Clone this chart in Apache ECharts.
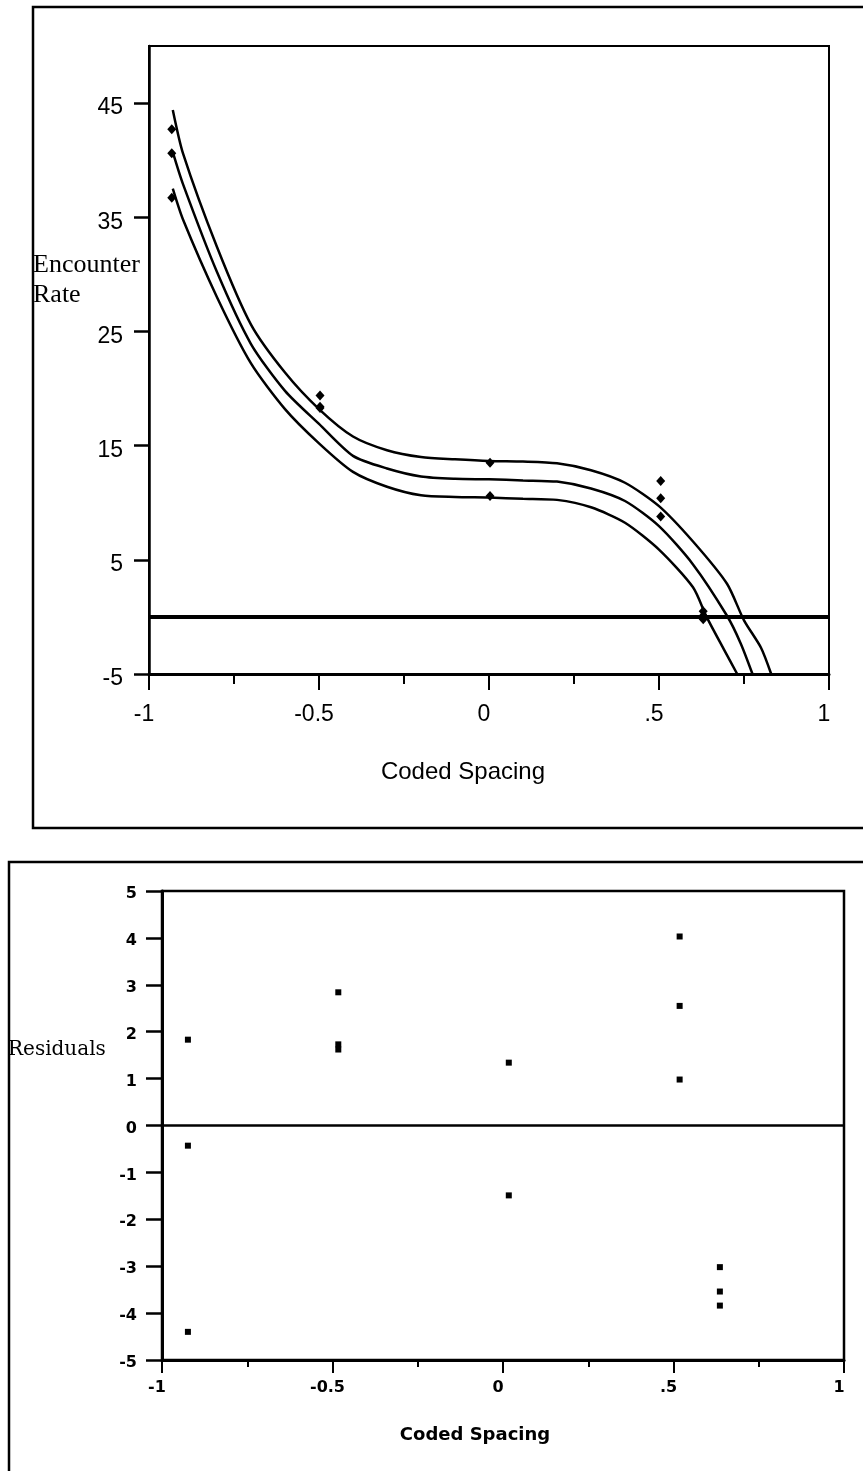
<!DOCTYPE html>
<html>
<head>
<meta charset="utf-8">
<script src="https://cdn.jsdelivr.net/npm/echarts@6/dist/echarts.min.js"></script>
<style>
html,body{margin:0;padding:0;background:#fff;}
#chart{width:863px;height:1471px;}
</style>
</head>
<body>
<div id="chart"></div>
<script>
// ---- data ----
const xTicks = [-1, -0.5, 0, 0.5, 1];
const xTickLabels = ['-1', '-0.5', '0', '.5', '1'];
const topYTicks = [-5, 5, 15, 25, 35, 45];

// fitted curve and its confidence bands (top panel)
const upperX = [-0.93, -0.9, -0.8, -0.7, -0.6, -0.5, -0.4, -0.3, -0.2, -0.1, 0, 0.1, 0.2, 0.3, 0.4, 0.5, 0.6, 0.7, 0.75, 0.8, 0.83];
const upperY = [44.4, 40.6, 32.4, 25.6, 21.4, 18.2, 15.8, 14.6, 14.0, 13.8, 13.65, 13.6, 13.45, 12.85, 11.75, 9.7, 6.6, 2.9, -0.3, -2.7, -5];
const middleX = [-0.93, -0.9, -0.8, -0.7, -0.6, -0.5, -0.4, -0.3, -0.2, -0.1, 0, 0.1, 0.2, 0.3, 0.4, 0.5, 0.6, 0.7, 0.74, 0.775];
const middleY = [40.7, 37.9, 30.2, 23.9, 19.8, 16.9, 14.1, 13.0, 12.3, 12.1, 12.05, 11.95, 11.85, 11.25, 10.15, 7.95, 4.6, 0.1, -2.3, -5];
const lowerX = [-0.93, -0.9, -0.8, -0.7, -0.6, -0.5, -0.4, -0.3, -0.2, -0.1, 0, 0.1, 0.2, 0.3, 0.4, 0.5, 0.6, 0.64, 0.69, 0.73];
const lowerY = [37.5, 34.8, 28.0, 22.2, 18.2, 15.2, 12.7, 11.4, 10.65, 10.5, 10.45, 10.35, 10.25, 9.6, 8.25, 5.9, 2.6, 0.0, -2.8, -5];

// observed encounter rates
const obsX = [-0.933, -0.933, -0.933, -0.497, -0.497, -0.497, 0.003, 0.003, 0.505, 0.505, 0.505, 0.63, 0.63, 0.63];
const obsY = [42.7, 40.6, 36.7, 19.4, 18.4, 18.3, 13.5, 10.6, 11.9, 10.4, 8.8, 0.5, 0.1, -0.2];

// residuals (bottom panel)
const resX = [-0.924, -0.924, -0.924, -0.483, -0.483, -0.483, 0.017, 0.017, 0.518, 0.518, 0.518, 0.636, 0.636, 0.636];
const resY = [1.83, -0.43, -4.4, 2.84, 1.73, 1.62, 1.34, -1.49, 4.03, 2.55, 0.98, -3.02, -3.54, -3.84];

// ---- build ----
const zip = (xs, ys) => xs.map((x, i) => [x, ys[i]]);
const xFmt = v => { const i = xTicks.findIndex(t => Math.abs(t - v) < 1e-9); return i >= 0 ? xTickLabels[i] : ''; };
const yFmtTop = v => topYTicks.some(t => Math.abs(t - v) < 1e-9) ? String(v) : '';
const K = '#000';
const sansTop = '"Liberation Sans", Arial, Helvetica, sans-serif';
const sansBot = '"DejaVu Sans", Verdana, sans-serif';

const chart = echarts.init(document.getElementById('chart'), null, {renderer: 'canvas'});

const curveStyle = {color: K, width: 2.5};

const option = {
  backgroundColor: '#fff',
  animation: false,
  grid: [
    {left: 149, top: 46, width: 680, height: 628, show: true, borderColor: K, borderWidth: 2, backgroundColor: 'transparent'},
    {left: 162, top: 891, width: 682, height: 469, show: true, borderColor: K, borderWidth: 2.5, backgroundColor: 'transparent'}
  ],
  xAxis: [
    {
      gridIndex: 0, type: 'value', min: -1, max: 1, interval: 0.5,
      name: 'Coded Spacing', nameLocation: 'middle', nameGap: 86,
      nameTextStyle: {color: K, fontSize: 24, fontFamily: sansTop, padding: [0, 52, 0, 0]},
      axisLine: {show: true, onZero: false, lineStyle: {color: K, width: 3}},
      axisTick: {show: true, inside: false, length: 16, lineStyle: {color: K, width: 2}},
      minorTick: {show: true, splitNumber: 2, length: 10, lineStyle: {color: K, width: 2}},
      splitLine: {show: false}, minorSplitLine: {show: false},
      axisLabel: {color: K, fontSize: 23, fontFamily: sansTop, margin: 29, formatter: xFmt, padding: [0, 10, 0, 0]}
    },
    {
      gridIndex: 1, type: 'value', min: -1, max: 1, interval: 0.5,
      name: 'Coded Spacing', nameLocation: 'middle', nameGap: 66,
      nameTextStyle: {color: K, fontSize: 18, fontWeight: 'bold', fontFamily: sansBot, padding: [0, 56, 0, 0]},
      axisLine: {show: true, onZero: false, lineStyle: {color: K, width: 3}},
      axisTick: {show: true, inside: false, length: 13, lineStyle: {color: K, width: 2}},
      minorTick: {show: true, splitNumber: 2, length: 7, lineStyle: {color: K, width: 2}},
      splitLine: {show: false}, minorSplitLine: {show: false},
      axisLabel: {color: K, fontSize: 16, fontWeight: 'bold', fontFamily: sansBot, margin: 20, formatter: xFmt, padding: [0, 10, 0, 0]}
    }
  ],
  yAxis: [
    {
      gridIndex: 0, type: 'value', min: -5, max: 50, interval: 10,
      axisLine: {show: true, onZero: false, lineStyle: {color: K, width: 2.5}},
      axisTick: {show: true, inside: false, length: 15, lineStyle: {color: K, width: 2.5}},
      splitLine: {show: false},
      axisLabel: {color: K, fontSize: 23, fontFamily: sansTop, margin: 26, showMaxLabel: false, formatter: yFmtTop,
                  verticalAlign: 'top', lineHeight: 10}
    },
    {
      gridIndex: 1, type: 'value', min: -5, max: 5, interval: 1,
      axisLine: {show: true, onZero: false, lineStyle: {color: K, width: 3}},
      axisTick: {show: true, inside: false, length: 16, lineStyle: {color: K, width: 2.5}},
      splitLine: {show: false},
      axisLabel: {color: K, fontSize: 16, fontWeight: 'bold', fontFamily: sansBot, margin: 25,
                  verticalAlign: 'top', lineHeight: 6}
    }
  ],
  series: [
    {type: 'line', xAxisIndex: 0, yAxisIndex: 0, data: zip(upperX, upperY), symbol: 'none', smooth: 0.25, lineStyle: curveStyle, clip: true, silent: true,
     markLine: {silent: true, symbol: 'none', label: {show: false}, lineStyle: {color: K, width: 4, type: 'solid'}, data: [{yAxis: 0}]}},
    {type: 'line', xAxisIndex: 0, yAxisIndex: 0, data: zip(middleX, middleY), symbol: 'none', smooth: 0.25, lineStyle: curveStyle, clip: true, silent: true},
    {type: 'line', xAxisIndex: 0, yAxisIndex: 0, data: zip(lowerX, lowerY), symbol: 'none', smooth: 0.25, lineStyle: curveStyle, clip: true, silent: true},
    {type: 'scatter', xAxisIndex: 0, yAxisIndex: 0, data: zip(obsX, obsY), symbol: 'diamond', symbolSize: [9, 10], itemStyle: {color: K, opacity: 1}, silent: true},
    {type: 'scatter', xAxisIndex: 1, yAxisIndex: 1, data: zip(resX, resY), symbol: 'rect', symbolSize: [6, 6], itemStyle: {color: K, opacity: 1}, silent: true,
     markLine: {silent: true, symbol: 'none', label: {show: false}, lineStyle: {color: K, width: 2.5, type: 'solid'}, data: [{yAxis: 0}]}}
  ],
  graphic: [
    {type: 'rect', shape: {x: 33, y: 7, width: 900, height: 821}, style: {fill: 'none', stroke: K, lineWidth: 2.5}, silent: true, z: 10},
    {type: 'rect', shape: {x: 9, y: 862, width: 900, height: 700}, style: {fill: 'none', stroke: K, lineWidth: 2.5}, silent: true, z: 10},
    // hide the automatic end-of-axis tick at 50 (not present in the original)
    {type: 'rect', shape: {x: 128, y: 42, width: 19, height: 8}, style: {fill: '#fff'}, silent: true, z: 100},
    {type: 'text', x: 33, y: 250, style: {text: 'Encounter\nRate', font: '26px "Liberation Serif", "Times New Roman", serif', fill: K, lineHeight: 30}, silent: true, z: 11},
    {type: 'text', x: 8, y: 1040, style: {text: 'Residuals', font: '20px "DejaVu Serif", serif', fill: K}, silent: true, z: 11}
  ]
};
chart.setOption(option);
</script>
</body>
</html>
